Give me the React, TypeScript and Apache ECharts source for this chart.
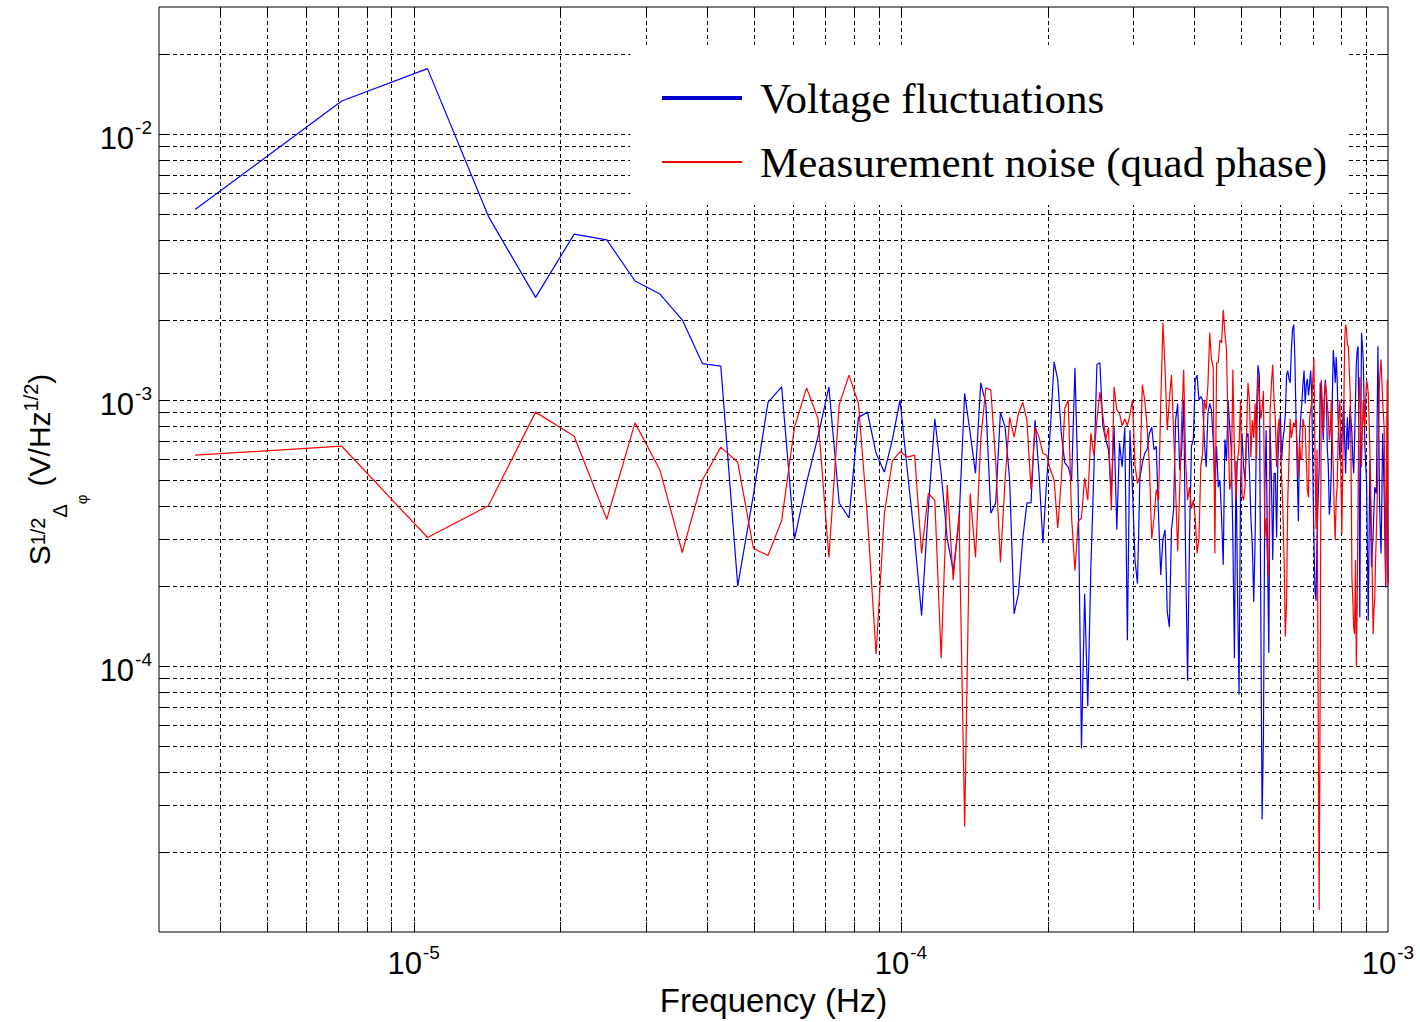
import React, { useEffect, useRef } from 'react';
import * as echarts from 'echarts';

// Spectral bin spacing (Hz): the k-th point sits at k * FREQ_STEP
const FREQ_STEP = 3.558e-6;
const X_MIN = 3e-6;
const X_MAX = 1e-3;
const Y_MIN = 1e-5;
const Y_MAX = 3e-2;

// grid-line positions (MATLAB style log grid)
const X_GRID = [
  4e-6, 5e-6, 6e-6, 7e-6, 8e-6, 9e-6,
  1e-5, 2e-5, 3e-5, 4e-5, 5e-5, 6e-5, 7e-5, 8e-5, 9e-5,
  1e-4, 2e-4, 3e-4, 4e-4, 5e-4, 6e-4, 7e-4, 8e-4, 9e-4,
];
const Y_GRID = [
  2e-5, 3e-5, 4e-5, 5e-5, 6e-5, 7e-5, 8e-5, 9e-5,
  1e-4, 2e-4, 3e-4, 4e-4, 5e-4, 6e-4, 7e-4, 8e-4, 9e-4,
  1e-3, 2e-3, 3e-3, 4e-3, 5e-3, 6e-3, 7e-3, 8e-3, 9e-3,
  1e-2, 2e-2,
];

const SERIES_NAMES = ['Voltage fluctuations', 'Measurement noise (quad phase)'];

// Voltage fluctuations (V/Hz^1/2), bins k = 1..281
const VOLTAGE = [
  5.2e-3, 1.33e-2, 1.76e-2, 4.9e-3, 2.43e-3, 4.2e-3, 4.0e-3, 2.8e-3, 2.5e-3, 2.0e-3,
  1.37e-3, 1.34e-3, 2.0e-4, 4.4e-4, 9.8e-4, 1.12e-3, 3.0e-4, 4.9e-4, 7.3e-4, 1.12e-3,
  4.1e-4, 3.6e-4, 8.6e-4, 9.0e-4, 6.3e-4, 5.35e-4, 7.1e-4, 1.0e-3, 5.35e-4, 3.0e-4,
  1.55e-4, 3.9e-4, 8.5e-4, 5.3e-4, 3.0e-4, 2.28e-4, 3.5e-4, 1.06e-3, 7.5e-4, 5.3e-4,
  1.16e-3, 9.7e-4, 3.75e-4, 4.1e-4, 9.0e-4, 7.9e-4, 5.0e-4, 1.57e-4, 1.87e-4, 3.0e-4,
  4.1e-4, 4.1e-4, 8.4e-4, 5.3e-4, 2.9e-4, 5.0e-4, 7.9e-4, 1.39e-3, 1.19e-3, 7.5e-4,
  5.8e-4, 5.6e-4, 5.0e-4, 1.32e-3, 4.45e-4, 4.9e-5, 1.87e-4, 7.06e-5, 2.35e-4, 5.45e-4,
  1.36e-3, 1.38e-3, 8.0e-4, 7.1e-4, 6.5e-4, 4.4e-4, 7.9e-4, 3.25e-4, 6.9e-4, 5.6e-4,
  7.9e-4, 1.25e-4, 7.7e-4, 4.6e-4, 2.5e-4, 2.04e-4, 5.1e-4, 5.8e-4, 6.3e-4, 6.5e-4,
  7.5e-4, 7.9e-4, 6.5e-4, 6.7e-4, 3.7e-4, 2.2e-4, 3.0e-4, 3.25e-4, 1.6e-4, 1.4e-4,
  3.25e-4, 3.85e-4, 8.4e-4, 9.7e-4, 5.45e-4, 6.5e-4, 1.0e-3, 2.5e-4, 8.8e-5, 3.1e-4,
  6.7e-4, 7.1e-4, 1.19e-3, 1.24e-3, 1.0e-3, 1.03e-3, 1.0e-3, 6.9e-4, 5.6e-4, 8.9e-4,
  9.7e-4, 9.2e-4, 7.1e-4, 4.85e-4, 6.7e-4, 4.7e-4, 5.0e-4, 3.6e-4, 2.4e-4, 7.1e-4,
  5.9e-4, 1.0e-3, 7.9e-4, 6.5e-4, 3.0e-4, 1.07e-4, 5.9e-4, 1.9e-4, 7.8e-5, 4.7e-4,
  7.5e-4, 5.6e-4, 5.0e-4, 7.25e-4, 7.5e-4, 5.45e-4, 3.6e-4, 2.84e-4, 1.74e-4, 3.04e-4,
  9.1e-4, 1.35e-3, 1.24e-3, 1.74e-4, 2.65e-5, 5.4e-5, 4.58e-4, 7.7e-4, 2.72e-4, 1.12e-4,
  8.0e-4, 5.0e-4, 2.5e-4, 5.3e-4, 5.3e-4, 3.04e-4, 5.94e-4, 7.7e-4, 8.8e-4, 5.94e-4,
  7.06e-4, 7.7e-4, 8.8e-4, 1.24e-3, 1.29e-3, 1.2e-3, 1.16e-3, 1.54e-3, 1.84e-3, 1.92e-3,
  1.42e-3, 8.4e-4, 5.45e-4, 3.5e-4, 7.06e-4, 8.5e-4, 9.7e-4, 1.14e-3, 1.29e-3, 9.7e-4,
  1.14e-3, 1.2e-3, 1.04e-3, 1.14e-3, 1.29e-3, 1.04e-3, 5.45e-4, 3.04e-4, 1.92e-4, 1.76e-4,
  3.15e-4, 4.2e-4, 5.6e-4, 1.16e-3, 1.0e-3, 8.4e-4, 7.06e-4, 1.0e-3, 1.19e-3, 1.06e-3,
  6.5e-4, 5.6e-4, 3.7e-4, 4.2e-4, 5.45e-4, 1.0e-3, 1.54e-3, 1.36e-3, 1.16e-3, 1.45e-3,
  1.19e-3, 8.6e-4, 7.06e-4, 5.94e-4, 6.5e-4, 7.06e-4, 8.4e-4, 1.0e-3, 7.06e-4, 5.3e-4,
  7.06e-4, 8.6e-4, 6.5e-4, 7.7e-4, 9.4e-4, 8.4e-4, 7.5e-4, 5.94e-4, 5.3e-4, 7.06e-4,
  1.0e-3, 1.38e-3, 1.54e-3, 1.59e-3, 6.5e-4, 1.52e-4, 6.5e-4, 1.79e-3, 1.61e-3, 1.42e-3,
  1.0e-3, 6.7e-4, 5.7e-4, 4.85e-4, 2.72e-4, 1.48e-4, 2.97e-4, 5.94e-4, 3.53e-4, 2.35e-4,
  2.72e-4, 3.15e-4, 3.85e-4, 4.7e-4, 4.58e-4, 4.45e-4, 8.4e-4, 1.59e-3, 8.4e-4, 4.2e-4,
  3.24e-4, 2.65e-4, 4.2e-4, 7.5e-4, 5.94e-4, 4.45e-4, 2.97e-4, 1.97e-4, 4.2e-4, 8.6e-4, 2.06e-4,
];

// Measurement noise, quad phase (V/Hz^1/2), bins k = 1..281
const NOISE = [
  6.2e-4, 6.7e-4, 3.04e-4, 4.0e-4, 9.0e-4, 7.3e-4, 3.56e-4, 8.2e-4, 5.45e-4, 2.67e-4,
  5.0e-4, 6.65e-4, 5.83e-4, 2.77e-4, 2.6e-4, 3.52e-4, 7.9e-4, 1.11e-3, 8.5e-4, 2.56e-4,
  9.6e-4, 1.24e-3, 9.7e-4, 3.6e-4, 1.11e-4, 3.75e-4, 5.9e-4, 6.4e-4, 6.1e-4, 6.2e-4,
  2.65e-4, 4.45e-4, 4.2e-4, 1.07e-4, 4.8e-4, 2.1e-4, 3.75e-4, 2.49e-5, 4.45e-4, 2.56e-4,
  7.1e-4, 1.11e-3, 1.09e-3, 5.9e-4, 2.45e-4, 5.0e-4, 8.6e-4, 7.25e-4, 8.9e-4, 9.8e-4,
  8.4e-4, 4.6e-4, 7.9e-4, 7.25e-4, 6.3e-4, 6.2e-4, 5.45e-4, 5.0e-4, 3.3e-4, 5.0e-4,
  9.3e-4, 1.0e-3, 3.6e-4, 2.28e-4, 3.5e-4, 3.6e-4, 5.1e-4, 4.2e-4, 7.5e-4, 6.2e-4,
  8.4e-4, 1.07e-3, 8.8e-4, 7.1e-4, 7.9e-4, 3.85e-4, 1.12e-3, 9.2e-4, 8.9e-4, 8.0e-4,
  8.5e-4, 8.0e-4, 8.8e-4, 1.0e-3, 5.7e-4, 4.85e-4, 5.2e-4, 1.14e-3, 1.0e-3, 8.0e-4,
  5.6e-4, 3.0e-4, 3.6e-4, 4.6e-4, 4.2e-4, 9.6e-4, 1.95e-3, 1.3e-3, 7.7e-4, 1.0e-3,
  1.24e-3, 7.7e-4, 4.6e-4, 2.7e-4, 4.6e-4, 8.4e-4, 1.3e-3, 5.9e-4, 4.2e-4, 4.7e-4,
  3.9e-4, 4.2e-4, 3.6e-4, 2.65e-4, 3.0e-4, 5.6e-4, 6.3e-4, 1.0e-3, 9.2e-4, 1.14e-3,
  1.79e-3, 1.42e-3, 1.33e-3, 2.65e-4, 1.38e-3, 1.38e-3, 1.68e-3, 1.64e-3, 2.18e-3, 1.79e-3,
  1.54e-3, 7.7e-4, 4.6e-4, 5.0e-4, 1.3e-3, 6.3e-4, 4.2e-4, 5.9e-4, 6.7e-4, 1.0e-3,
  4.4e-4, 4.2e-4, 4.7e-4, 7.5e-4, 1.16e-3, 1.0e-3, 6.1e-4, 8.4e-4, 7.2e-4, 9.7e-4,
  6.0e-4, 1.24e-3, 1.04e-3, 8.5e-4, 9.2e-4, 1.08e-3, 3.04e-4, 3.6e-4, 2.5e-4, 2.15e-4,
  9.1e-4, 1.16e-3, 1.36e-3, 1.0e-3, 8.5e-4, 5.6e-4, 7.7e-4, 8.5e-4, 7.2e-4, 5.1e-4,
  3.85e-4, 2.5e-4, 1.29e-4, 1.74e-4, 4.2e-4, 6.0e-4, 8.5e-4, 7.2e-4, 7.7e-4, 8.2e-4,
  8.0e-4, 8.5e-4, 6.5e-4, 5.1e-4, 6.9e-4, 6.0e-4, 6.0e-4, 8.5e-4, 8.0e-4, 8.0e-4,
  6.0e-4, 4.58e-4, 4.3e-4, 8.5e-4, 9.2e-4, 9.7e-4, 1.19e-3, 1.43e-3, 6.5e-4, 3.27e-4,
  6.5e-4, 7.4e-5, 1.21e-5, 9.2e-5, 1.19e-3, 1.0e-3, 7.5e-4, 1.0e-3, 1.16e-3, 1.06e-3,
  9.6e-4, 8.6e-4, 7.06e-4, 7.7e-4, 1.0e-3, 7.06e-4, 5.6e-4, 3.85e-4, 2.97e-4, 4.2e-4,
  4.7e-4, 7.06e-4, 9.2e-4, 1.0e-3, 5.0e-4, 3.15e-4, 5.94e-4, 8.6e-4, 1.68e-3, 1.92e-3,
  1.84e-3, 1.61e-3, 1.59e-3, 1.3e-3, 1.09e-3, 5.94e-4, 2.15e-4, 1.76e-4, 1.39e-4, 1.32e-4,
  2.5e-4, 9.9e-5, 1.76e-4, 4.2e-4, 1.0e-3, 1.22e-3, 8.4e-4, 5.6e-4, 7.7e-4, 1.0e-3,
  8.4e-4, 7.9e-4, 1.0e-3, 1.19e-3, 1.14e-3, 1.06e-3, 8.4e-4, 6.5e-4, 4.58e-4, 3.15e-4,
  2.1e-4, 1.32e-4, 1.62e-4, 1.76e-4, 2.5e-4, 3.15e-4, 4.2e-4, 5.6e-4, 8.4e-4, 1.16e-3,
  1.3e-3, 1.42e-3, 1.19e-3, 1.0e-3, 8.8e-4, 7.9e-4, 4.2e-4, 2.05e-4, 5.0e-4, 1.19e-3, 2.0e-4,
];

const SANS = 'Liberation Sans, Arial, sans-serif';
const SERIF = 'Liberation Serif, Times New Roman, serif';
const TICK = 10;

const powLabel = (v: number) => {
  const l = Math.log10(v);
  const r = Math.round(l);
  if (Math.abs(l - r) > 1e-6) return '';
  return `{b|10}{s|${r}}`;
};

const labelRich = {
  b: { fontSize: 31, fontFamily: SANS, color: '#000', lineHeight: 31, padding: [5, 0, 0, 0], verticalAlign: 'top' },
  s: { fontSize: 19, fontFamily: SANS, color: '#000', lineHeight: 19, padding: [0, 0, 0, 1], verticalAlign: 'top' },
};

export default function App() {
  const ref = useRef<HTMLDivElement>(null);

  useEffect(() => {
    document.body.style.margin = '0';
    document.body.style.overflow = 'hidden';
    if (!ref.current) return;
    const chart = echarts.init(ref.current, undefined, { renderer: 'svg' });

    const n = Math.min(VOLTAGE.length, NOISE.length);
    const freqs: number[] = [];
    for (let i = 0; i < n; i++) freqs.push((i + 1) * FREQ_STEP);

    const vLines = {
      type: 'custom',
      silent: true,
      z: 1,
      clip: false,
      data: X_GRID.map((v) => [v, Y_MIN]),
      encode: { x: 0, y: 1 },
      renderItem: (params: any, api: any) => {
        const cs = params.coordSys;
        const px = Math.round(api.coord([api.value(0), Y_MIN])[0]) + 0.5;
        const top = cs.y;
        const bot = cs.y + cs.height;
        return {
          type: 'group',
          children: [
            { type: 'line', shape: { x1: px, y1: top, x2: px, y2: bot }, style: { stroke: '#000', lineWidth: 1, lineDash: [4, 3] } },
            { type: 'line', shape: { x1: px, y1: bot, x2: px, y2: bot - TICK }, style: { stroke: '#000', lineWidth: 1 } },
            { type: 'line', shape: { x1: px, y1: top, x2: px, y2: top + TICK }, style: { stroke: '#000', lineWidth: 1 } },
          ],
        };
      },
    };

    const hLines = {
      type: 'custom',
      silent: true,
      z: 1,
      clip: false,
      data: Y_GRID.map((v) => [X_MIN, v]),
      encode: { x: 0, y: 1 },
      renderItem: (params: any, api: any) => {
        const cs = params.coordSys;
        const py = Math.round(api.coord([X_MIN, api.value(1)])[1]) + 0.5;
        const left = cs.x;
        const right = cs.x + cs.width;
        return {
          type: 'group',
          children: [
            { type: 'line', shape: { x1: left, y1: py, x2: right, y2: py }, style: { stroke: '#000', lineWidth: 1, lineDash: [4, 3] } },
            { type: 'line', shape: { x1: left, y1: py, x2: left + TICK, y2: py }, style: { stroke: '#000', lineWidth: 1 } },
            { type: 'line', shape: { x1: right, y1: py, x2: right - TICK, y2: py }, style: { stroke: '#000', lineWidth: 1 } },
          ],
        };
      },
    };

    const option: any = {
      animation: false,
      backgroundColor: '#fff',
      grid: {
        left: 159,
        right: 32,
        top: 7,
        bottom: 90,
        show: true,
        borderColor: '#000',
        borderWidth: 1,
        backgroundColor: 'transparent',
      },
      xAxis: {
        type: 'log',
        logBase: 10,
        min: X_MIN,
        max: X_MAX,
        axisLine: { show: false },
        axisTick: { show: false },
        splitLine: { show: false },
        axisLabel: { formatter: powLabel, rich: labelRich, margin: 11, color: '#000' },
        name: 'Frequency (Hz)',
        nameLocation: 'middle',
        nameGap: 50,
        nameTextStyle: { fontFamily: SANS, fontSize: 33, color: '#000' },
      },
      yAxis: {
        type: 'log',
        logBase: 10,
        min: Y_MIN,
        max: Y_MAX,
        axisLine: { show: false },
        axisTick: { show: false },
        splitLine: { show: false },
        axisLabel: { formatter: powLabel, rich: labelRich, margin: 7, color: '#000', showMinLabel: false },
        name: '{s|S}{p1|1/2}{d|Δ}{f|φ}{s|(V/Hz}{p2|1/2}{s|)}',
        nameLocation: 'middle',
        nameRotate: 90,
        nameGap: 70,
        nameTextStyle: {
          fontFamily: SANS,
          color: '#000',
          rich: {
            s: { fontFamily: SANS, fontSize: 30, lineHeight: 30, color: '#000', verticalAlign: 'top', padding: [4, 0, 0, 0] },
            p1: { fontFamily: SANS, fontSize: 20, lineHeight: 20, color: '#000', verticalAlign: 'top', padding: [7, 0, 0, 0] },
            p2: { fontFamily: SANS, fontSize: 20, lineHeight: 20, color: '#000', verticalAlign: 'top', padding: [0, 0, 0, 0] },
            d: { fontFamily: SANS, fontSize: 20, lineHeight: 20, color: '#000', verticalAlign: 'top', padding: [29, 0, 0, 0] },
            f: { fontFamily: SANS, fontSize: 15, lineHeight: 15, color: '#000', verticalAlign: 'top', padding: [53, 8, 0, 0] },
          },
        },
      },
      legend: {
        left: 630,
        top: 45,
        orient: 'vertical',
        backgroundColor: '#fff',
        padding: [31, 20, 21, 30],
        itemGap: 20,
        itemWidth: 80,
        itemHeight: 20,
        selectedMode: false,
        textStyle: { fontFamily: SERIF, fontSize: 43, lineHeight: 44, color: '#000', padding: [0, 0, 0, 13] },
        data: [
          { name: SERIES_NAMES[0], lineStyle: { width: 4, color: '#0000cc' }, itemStyle: { opacity: 0 } },
          { name: SERIES_NAMES[1], lineStyle: { width: 2, color: '#ff0000' }, itemStyle: { opacity: 0 } },
        ],
      },
      series: [
        vLines,
        hLines,
        {
          name: SERIES_NAMES[0],
          type: 'line',
          data: freqs.map((f, i) => [f, VOLTAGE[i]]),
          symbol: 'none',
          silent: true,
          z: 3,
          lineStyle: { color: '#0000ff', width: 1.2 },
          itemStyle: { color: '#0000ff' },
        },
        {
          name: SERIES_NAMES[1],
          type: 'line',
          data: freqs.map((f, i) => [f, NOISE[i]]),
          symbol: 'none',
          silent: true,
          z: 4,
          lineStyle: { color: '#ff0000', width: 1.2 },
          itemStyle: { color: '#ff0000' },
        },
      ],
    };

    chart.setOption(option);
    return () => chart.dispose();
  }, []);

  return <div ref={ref} style={{ width: 1420, height: 1022 }} />;
}
